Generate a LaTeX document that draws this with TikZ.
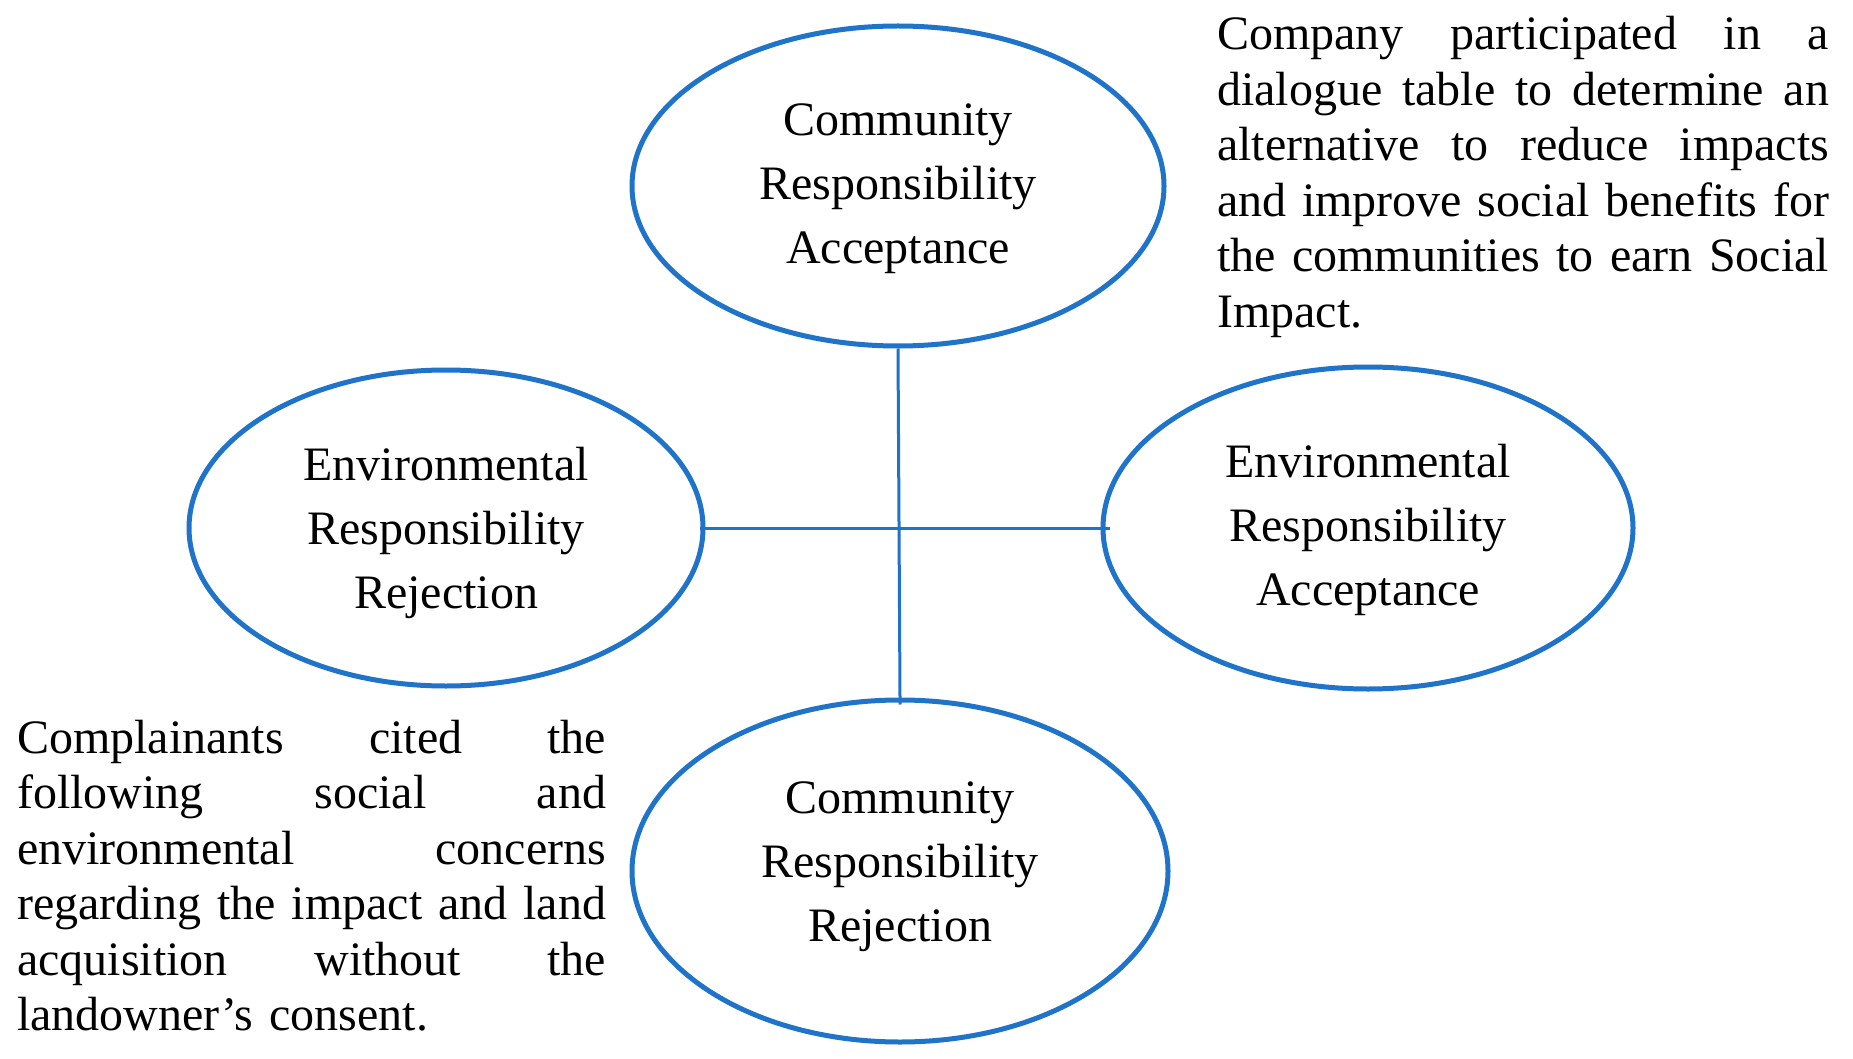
\documentclass[tikz,border=0pt]{standalone}
\usepackage{fontspec}
\setmainfont{Liberation Serif}
\usetikzlibrary{shapes.geometric}
\definecolor{ringblue}{HTML}{1F74C9}
\newcommand{\jline}[2]{\leavevmode\hbox to #1{#2}}
\newcommand{\gap}{\hfill}
\newcommand{\lift}[1]{\rule{0pt}{#1}}
\begin{document}
\begin{tikzpicture}[x=1pt,y=-1pt,
  oval/.style={ellipse, draw=ringblue, line width=5pt, inner sep=0pt, align=center,
    font={\fontsize{48}{64}\selectfont}},
  link/.style={draw=ringblue, line width=3pt},
  para/.style={anchor=base west, inner sep=0pt, align=left,
    font={\fontsize{48}{55.5}\selectfont}}]
\useasboundingbox[fill=white] (0,0) rectangle (1853,1059);

\node[oval, minimum width=532pt, minimum height=320pt] (top) at (898,186)
  {\lift{37pt}Community\\Responsibility\\Acceptance};
\node[oval, minimum width=514pt, minimum height=316pt] (left) at (446,528)
  {\lift{44pt}Environmental\\Responsibility\\Rejection};
\node[oval, minimum width=530pt, minimum height=322pt] (right) at (1368,528)
  {\lift{37pt}Environmental\\Responsibility\\Acceptance};
\node[oval, minimum width=536pt, minimum height=342pt] (bottom) at (900,871)
  {Community\\Responsibility\\Rejection\rule[-19pt]{0pt}{1pt}};

\draw[link, shorten >=-7pt] (top.south) -- (bottom.north);
\draw[link, shorten <=-6pt, shorten >=-9pt] (left.east) -- (right.west);

\node[para, text width=612pt] (note1) at (1217,50)
  {\jline{612pt}{Company\gap participated\gap in\gap a}\\
   \jline{612pt}{dialogue\gap table\gap to\gap determine\gap an}\\
   \jline{612pt}{alternative\gap to\gap reduce\gap impacts}\\
   \jline{612pt}{and\gap improve\gap social\gap benefits\gap for}\\
   \jline{612pt}{the\gap communities\gap to\gap earn\gap Social}\\
   Impact.};

\node[para, text width=589pt] (note2) at (17,753)
  {\jline{589pt}{Complainants\gap cited\gap the}\\
   \jline{589pt}{following\gap social\gap and}\\
   \jline{589pt}{environmental\gap concerns}\\
   \jline{589pt}{regarding\gap the\gap impact\gap and\gap land}\\
   \jline{589pt}{acquisition\gap without\gap the}\\
   landowner’s consent.};
\end{tikzpicture}
\end{document}
